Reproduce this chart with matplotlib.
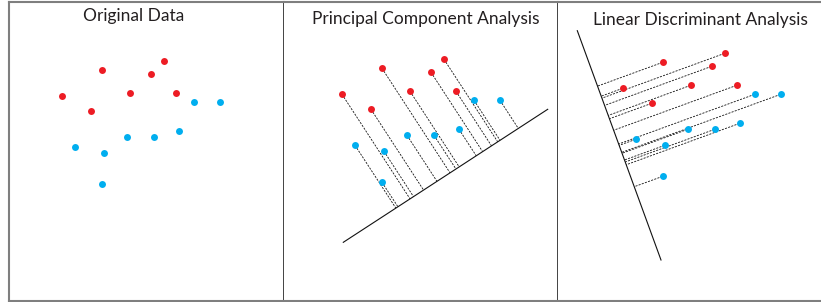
"""
Original data vs PCA vs LDA projections (schematic).
"""
import numpy as np
import matplotlib.pyplot as plt

# two classes, feature space (same points in every panel)
red_x = [6.2, 10.2, 9.1, 13.0, 15.1, 16.4, 17.6]
red_y = [20.4, 23.0, 18.9, 20.7, 22.6, 23.9, 20.7]
blue_x = [19.4, 22.0, 7.5, 10.4, 12.7, 15.4, 17.9, 10.2]
blue_y = [19.8, 19.8, 15.3, 14.7, 16.3, 16.3, 16.9, 11.6]

# projection axes (two end points each)
pca_line_x = [6.33, 26.77]
pca_line_y = [5.6, 18.9]
lda_line_x = [1.68, 10.05]
lda_line_y = [26.17, 3.24]

titles = ["Original Data", "Principal Component Analysis", "Linear Discriminant Analysis"]

redCol = '#ED1C24'
blueCol = '#00AEEF'
frameCol = '#7f7f7f'

W, H = 821, 302
fig = plt.figure(figsize=(W/100, H/100), dpi=100)

# panel boxes in pixels: left, right, and the view offset of the data
panels = [(8.5, 283.5, 0.0, 0.0),
          (283.5, 557.5, 280.0, -1.7),
          (557.5, 830.0, 560.5, -7.6)]
top, bottom = 2.0, 300.5

def project(xs, ys, lx, ly):
    p0 = np.array([lx[0], ly[0]])
    d = np.array([lx[1]-lx[0], ly[1]-ly[0]])
    d = d/np.linalg.norm(d)
    pts = np.column_stack([xs, ys])
    t = (pts-p0) @ d
    return p0[0]+t*d[0], p0[1]+t*d[1]

axes = []
for i, (l, r, dx, dy) in enumerate(panels):
    ax = fig.add_axes([l/W, (H-bottom)/H, (r-l)/W, (bottom-top)/H])
    ax.set_xlim((l-dx)/10, (r-dx)/10)
    ax.set_ylim((300-(bottom-dy))/10, (300-(top-dy))/10)
    ax.set_xticks([])
    ax.set_yticks([])
    for s in ax.spines.values():
        s.set_color(frameCol)
        s.set_linewidth(1.5)
    ax.spines['left'].set_visible(i == 0)
    ax.spines['right'].set_color('#222222')
    ax.spines['right'].set_linewidth(1.2)
    ax.spines['right'].set_visible(i < 2)
    axes.append(ax)

lines = [None, (pca_line_x, pca_line_y), (lda_line_x, lda_line_y)]
for ax, ln in zip(axes, lines):
    if ln is not None:
        lx, ly = ln
        ax.plot(lx, ly, color='#111111', lw=0.8, zorder=2)
        for xs, ys in [(red_x, red_y), (blue_x, blue_y)]:
            px, py = project(xs, ys, lx, ly)
            for k in range(len(xs)):
                ax.plot([xs[k], px[k]], [ys[k], py[k]], color='#111111', lw=0.6,
                        linestyle=(0, (2.5, 1.5)), zorder=1)
    ax.plot(red_x, red_y, 'o', color=redCol, ms=5, mec='none', zorder=3)
    ax.plot(blue_x, blue_y, 'o', color=blueCol, ms=5, mec='none', zorder=3)

# titles (left edge, baseline in pixels)
titlePos = [(83, 21.5), (311.5, 24), (593, 25.5)]
for t, (x, y) in zip(titles, titlePos):
    fig.text(x/W, (H-y)/H, t, ha='left', va='baseline', fontsize=12.5,
             family='Lato', color='#231f20')

plt.savefig("out.png", dpi=100)
